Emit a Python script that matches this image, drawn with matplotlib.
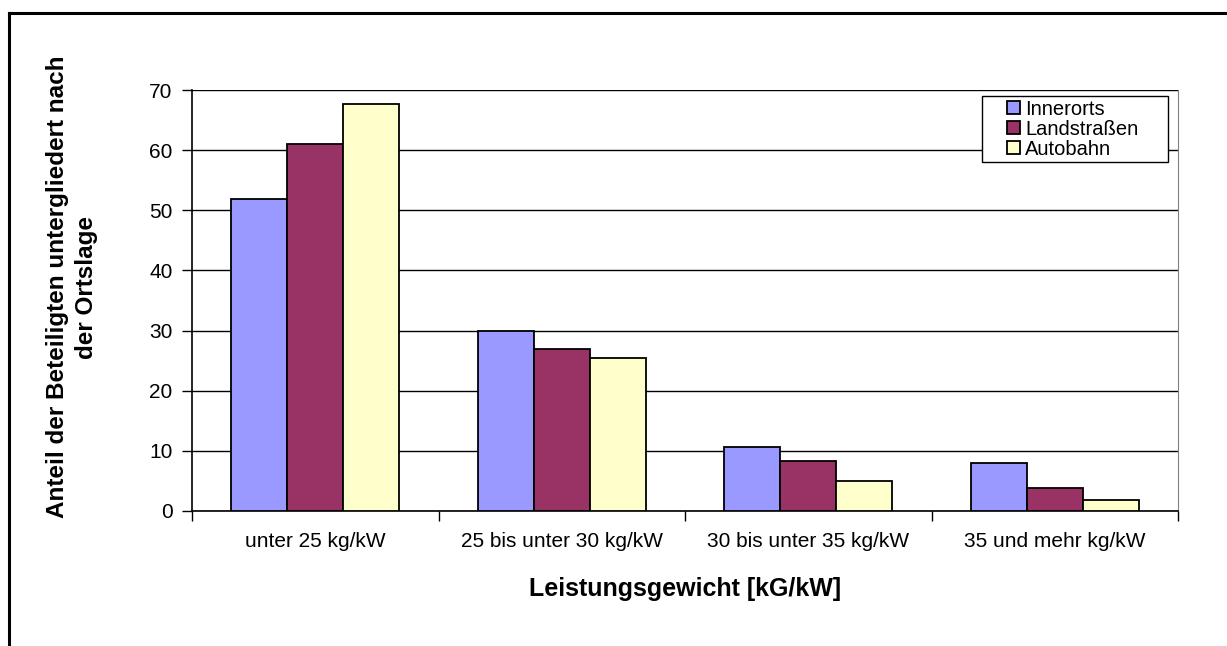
import matplotlib.pyplot as plt
import numpy as np
from matplotlib.lines import Line2D
from matplotlib.patches import Rectangle

plt.rcParams['font.family'] = ['Liberation Sans', 'DejaVu Sans']

categories = ['unter 25 kg/kW', '25 bis unter 30 kg/kW', '30 bis unter 35 kg/kW', '35 und mehr kg/kW']
series = ['Innerorts', 'Landstraßen', 'Autobahn']
innerorts = [51.8, 29.9, 10.6, 7.9]
landstrassen = [61.1, 26.9, 8.3, 3.9]
autobahn = [67.7, 25.5, 5.0, 1.9]
colors = ['#9999FF', '#993366', '#FFFFCC']

fig = plt.figure(figsize=(12.27, 6.46), dpi=100)
ax = fig.add_axes([192 / 1227, 1 - 511 / 646, (1178 - 192) / 1227, (511 - 90) / 646])

# outer frame (only top and left visible in the reference)
fig.add_artist(Line2D([9 / 1227, 1.0], [1 - 13 / 646] * 2, color='black', lw=2.2))
fig.add_artist(Line2D([9 / 1227] * 2, [0.0, 1 - 13 / 646], color='black', lw=2.2))

x = np.arange(len(categories))
w = 0.227
for i, (vals, name) in enumerate(zip([innerorts, landstrassen, autobahn], series)):
    ax.bar(x + (i - 1) * w, vals, w, color=colors[i], edgecolor='black', linewidth=1.3,
           label=name, zorder=3)

ax.set_xlim(-0.5, len(categories) - 0.5)
ax.set_ylim(0, 70)
ax.set_yticks(range(0, 71, 10))
ax.yaxis.grid(True, color='black', linewidth=1.0, zorder=0)
ax.set_xticks(x)
ax.set_xticklabels(categories, fontsize=15)
ax.set_xticks(np.arange(-0.5, len(categories)), minor=True)
ax.tick_params(axis='x', which='major', length=0, pad=15)
ax.tick_params(axis='x', which='minor', length=7, width=1, color='black')
ax.tick_params(axis='y', length=7, width=1, labelsize=15, pad=7)

for side in ['left', 'bottom']:
    ax.spines[side].set_color('black')
    ax.spines[side].set_linewidth(1.2)
ax.spines['right'].set_color('#808080')
ax.spines['top'].set_visible(False)

ax.set_xlabel('Leistungsgewicht [kG/kW]', fontsize=18, fontweight='bold', labelpad=19)
ax.set_ylabel('Anteil der Beteiligten untergliedert nach\nder Ortslage', fontsize=17.5,
              fontweight='bold', linespacing=1.35)
ax.yaxis.set_label_coords(-0.095, 0.532)

# legend box drawn separately (Excel style, generous padding)
ax.add_patch(Rectangle((0.801, 0.829), 0.189, 0.157, transform=ax.transAxes,
                       facecolor='white', edgecolor='black', linewidth=1.0,
                       zorder=5, clip_on=False))
leg = ax.legend(loc='center left', bbox_to_anchor=(0.8266, 0.907), fontsize=14.5,
                frameon=False, handlelength=0.65, handleheight=0.65, handletextpad=0.25,
                labelspacing=0.05, borderpad=0, borderaxespad=0)
leg.set_zorder(6)

fig.savefig('out.png', dpi=100)
